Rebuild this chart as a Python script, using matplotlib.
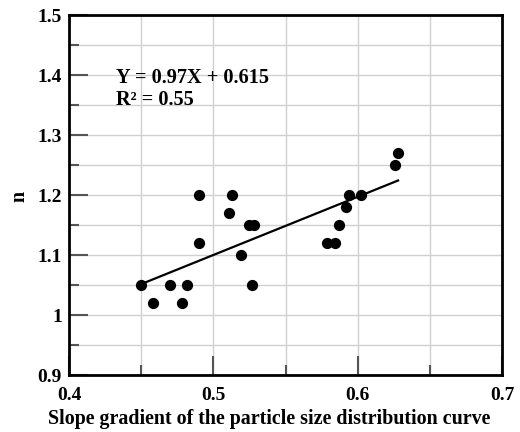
import matplotlib
matplotlib.use("Agg")
import matplotlib.pyplot as plt
from matplotlib.ticker import MultipleLocator
import numpy as np

slope = [0.450, 0.458, 0.470, 0.478, 0.482, 0.490, 0.490, 0.511, 0.513, 0.519,
         0.525, 0.528, 0.527, 0.579, 0.584, 0.587, 0.592, 0.594, 0.602, 0.626, 0.628]
n_vals = [1.05, 1.02, 1.05, 1.02, 1.05, 1.12, 1.20, 1.17, 1.20, 1.10,
          1.15, 1.15, 1.05, 1.12, 1.12, 1.15, 1.18, 1.20, 1.20, 1.25, 1.27]
fit_slope = 0.97
fit_intercept = 0.615
fit_x = [0.450, 0.628]

plt.rcParams['font.family'] = ['Liberation Serif', 'DejaVu Serif']
plt.rcParams['font.weight'] = 'bold'

W, H = 520, 432
fig = plt.figure(figsize=(5.2, 4.32), dpi=100)
ax = fig.add_axes([69/W, 1-375/H, (502-69)/W, (375-15)/H])

ax.set_xlim(0.4, 0.7)
ax.set_ylim(0.9, 1.5)

ax.xaxis.set_major_locator(MultipleLocator(0.1))
ax.xaxis.set_minor_locator(MultipleLocator(0.05))
ax.yaxis.set_major_locator(MultipleLocator(0.1))
ax.yaxis.set_minor_locator(MultipleLocator(0.05))

ax.grid(True, which='both', color='#d0d0d0', linewidth=1.0, zorder=0)
ax.set_axisbelow(True)

fx = np.array(fit_x)
ax.plot(fx, fit_slope*fx + fit_intercept, color='black', lw=1.6, zorder=2)
ax.scatter(slope, n_vals, s=50, color='black', zorder=3)

ax.tick_params(which='major', direction='in', length=14, width=1.5, color='#555555',
               labelsize=14)
ax.tick_params(axis='y', which='major', pad=5)
ax.tick_params(axis='x', which='major', pad=9)
ax.tick_params(which='minor', direction='in', length=7, width=1.5, color='#555555')
ax.tick_params(axis='both', which='both', top=False, right=False)

def fmt(v):
    s = f"{v:.1f}"
    return "1" if s == "1.0" else s
xt = [0.4, 0.5, 0.6, 0.7]
ax.set_xticks(xt)
ax.set_xticklabels([fmt(v) for v in xt], fontweight='bold')
yt = [0.9, 1.0, 1.1, 1.2, 1.3, 1.4, 1.5]
ax.set_yticks(yt)
ax.set_yticklabels([fmt(v) for v in yt], fontweight='bold')

for sp in ax.spines.values():
    sp.set_linewidth(2)
    sp.set_color('black')

fig.text(269.5/W, 1-424/H, 'Slope gradient of the particle size distribution curve',
         fontsize=14.4, fontweight='bold', ha='center', va='baseline')
fig.text(20/W, 1-196/H, 'n', fontsize=14.4, fontweight='bold', rotation=90,
         ha='center', va='center')

ax.text(0.4326, 1.387, 'Y = 0.97X + 0.615', fontsize=14.6,
        fontweight='bold', va='baseline', ha='left')
ax.text(0.4326, 1.350, 'R² = 0.55', fontsize=14.6,
        fontweight='bold', va='baseline', ha='left')

fig.savefig('out.png', dpi=100)
